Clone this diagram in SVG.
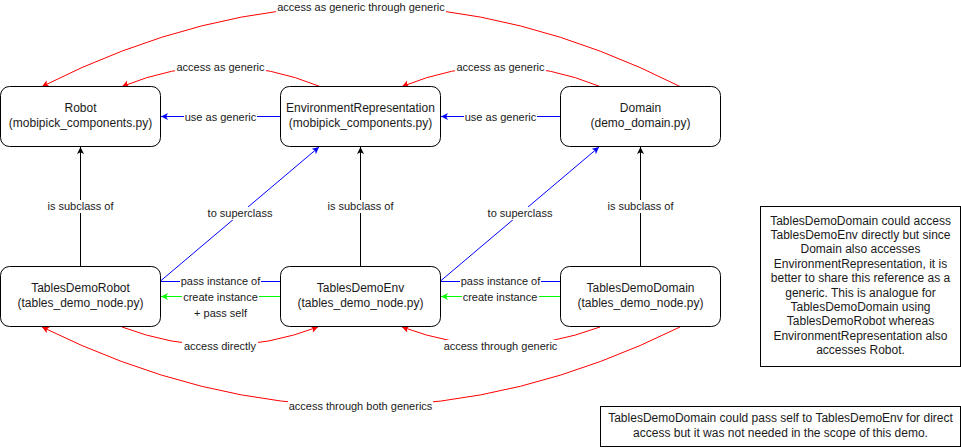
<svg xmlns="http://www.w3.org/2000/svg" width="961" height="448" viewBox="0 0 961 448">
<style>
.node rect{fill:#fff;stroke:#000;stroke-width:1}
.node text{font-family:"Liberation Sans",Arial,sans-serif;font-size:12px;fill:#1a1a1a;text-anchor:middle}
.e{fill:none;stroke-width:1}
.red{stroke:#ff0000}
.blue{stroke:#0000ff}
.green{stroke:#00ff00}
.black{stroke:#000}
.lbl rect{fill:#fff;stroke:none}
.lbl text{font-family:"Liberation Sans",Arial,sans-serif;font-size:11px;fill:#1a1a1a;text-anchor:middle}
</style>
<defs>
<marker id="aR" markerUnits="userSpaceOnUse" markerWidth="9" markerHeight="9" refX="7" refY="3.5" orient="auto"><path d="M0,0 L7,3.5 L0,7 L1.8,3.5 z" fill="#ff0000"/></marker>
<marker id="aB" markerUnits="userSpaceOnUse" markerWidth="9" markerHeight="9" refX="7" refY="3.5" orient="auto"><path d="M0,0 L7,3.5 L0,7 L1.8,3.5 z" fill="#0000ff"/></marker>
<marker id="aG" markerUnits="userSpaceOnUse" markerWidth="9" markerHeight="9" refX="7" refY="3.5" orient="auto"><path d="M0,0 L7,3.5 L0,7 L1.8,3.5 z" fill="#00ff00"/></marker>
<marker id="aK" markerUnits="userSpaceOnUse" markerWidth="9" markerHeight="9" refX="7" refY="3.5" orient="auto"><path d="M0,0 L7,3.5 L0,7 L1.8,3.5 z" fill="#000"/></marker>
</defs>

<g id="connectors">
<path class="e red" d="M680,86.5 Q361,-75 42,86.5" marker-end="url(#aR)"/>
<path class="e red" d="M320,86.5 Q221,46 122,86.5" marker-end="url(#aR)"/>
<path class="e red" d="M600,86.5 Q501,46 402,86.5" marker-end="url(#aR)"/>
<path class="e blue" d="M280.5,116.5 L161,116.5" marker-end="url(#aB)"/>
<path class="e blue" d="M560.5,116.5 L441,116.5" marker-end="url(#aB)"/>
<path class="e black" d="M80.5,266.5 L80.5,147" marker-end="url(#aK)"/>
<path class="e black" d="M360.5,266.5 L360.5,147" marker-end="url(#aK)"/>
<path class="e black" d="M640.5,266.5 L640.5,147" marker-end="url(#aK)"/>
<path class="e blue" d="M160.5,281 L319,147" marker-end="url(#aB)"/>
<path class="e blue" d="M440.5,281 L599,147" marker-end="url(#aB)"/>
<path class="e blue" d="M160.5,281.5 L280.5,281.5"/>
<path class="e blue" d="M440.5,281.5 L560.5,281.5"/>
<path class="e green" d="M280.5,296.5 L161,296.5" marker-end="url(#aG)"/>
<path class="e green" d="M560.5,296.5 L441,296.5" marker-end="url(#aG)"/>
<path class="e red" d="M122,327 Q220,364 318,327" marker-end="url(#aR)"/>
<path class="e red" d="M600,327 Q501,364 402,327" marker-end="url(#aR)"/>
<path class="e red" d="M680,327 Q361,485 42,327" marker-end="url(#aR)"/>
</g>

<g id="labels">
<g class="lbl"><rect x="276" y="0" width="170" height="14"/><text x="361" y="10.5">access as generic through generic</text></g>
<g class="lbl"><rect x="175" y="60" width="91" height="13"/><text x="220.5" y="70.5">access as generic</text></g>
<g class="lbl"><rect x="455" y="60" width="91" height="13"/><text x="500.5" y="70.5">access as generic</text></g>
<g class="lbl"><rect x="184" y="110" width="73" height="13"/><text x="220.5" y="120.5">use as generic</text></g>
<g class="lbl"><rect x="464" y="110" width="73" height="13"/><text x="500.5" y="120.5">use as generic</text></g>
<g class="lbl"><rect x="46" y="200" width="69" height="13"/><text x="80.5" y="210">is subclass of</text></g>
<g class="lbl"><rect x="326" y="200" width="69" height="13"/><text x="360.5" y="210">is subclass of</text></g>
<g class="lbl"><rect x="606" y="200" width="69" height="13"/><text x="640.5" y="210">is subclass of</text></g>
<g class="lbl"><rect x="207" y="207" width="66" height="13"/><text x="240" y="217">to superclass</text></g>
<g class="lbl"><rect x="487" y="207" width="66" height="13"/><text x="520" y="217">to superclass</text></g>
<g class="lbl"><rect x="180" y="275" width="81" height="13"/><text x="220.5" y="285">pass instance of</text></g>
<g class="lbl"><rect x="460" y="275" width="81" height="13"/><text x="500.5" y="285">pass instance of</text></g>
<g class="lbl"><rect x="182" y="290" width="77" height="28"/><text x="220.5" y="300.5">create instance</text><text x="220.5" y="316.5">+ pass self</text></g>
<g class="lbl"><rect x="462" y="290" width="77" height="13"/><text x="500" y="300.5">create instance</text></g>
<g class="lbl"><rect x="182" y="340" width="76" height="13"/><text x="220" y="350">access directly</text></g>
<g class="lbl"><rect x="443" y="340" width="115" height="13"/><text x="500.5" y="350">access through generic</text></g>
<g class="lbl"><rect x="288" y="400" width="145" height="13"/><text x="360.5" y="410">access through both generics</text></g>
</g>

<g id="robot" class="node"><rect x="0.5" y="86.5" width="160" height="60" rx="9"/><text x="80.5" y="112">Robot</text><text x="80.5" y="126.5">(mobipick_components.py)</text></g>
<g id="envrep" class="node"><rect x="280.5" y="86.5" width="160" height="60" rx="9"/><text x="360.5" y="112">EnvironmentRepresentation</text><text x="360.5" y="126.5">(mobipick_components.py)</text></g>
<g id="domain" class="node"><rect x="560.5" y="86.5" width="160" height="60" rx="9"/><text x="640.5" y="112">Domain</text><text x="640.5" y="126.5">(demo_domain.py)</text></g>
<g id="tdrobot" class="node"><rect x="0.5" y="266.5" width="160" height="60" rx="9"/><text x="80.5" y="292">TablesDemoRobot</text><text x="80.5" y="306.5">(tables_demo_node.py)</text></g>
<g id="tdenv" class="node"><rect x="280.5" y="266.5" width="160" height="60" rx="9"/><text x="360.5" y="292">TablesDemoEnv</text><text x="360.5" y="306.5">(tables_demo_node.py)</text></g>
<g id="tddomain" class="node"><rect x="560.5" y="266.5" width="160" height="60" rx="9"/><text x="640.5" y="292">TablesDemoDomain</text><text x="640.5" y="306.5">(tables_demo_node.py)</text></g>

<g id="note1" class="node"><rect x="760.5" y="206.5" width="200" height="160"/>
<text x="860.5" y="224.5">TablesDemoDomain could access</text>
<text x="860.5" y="238.9">TablesDemoEnv directly but since</text>
<text x="860.5" y="253.3">Domain also accesses</text>
<text x="860.5" y="267.7">EnvironmentRepresentation, it is</text>
<text x="860.5" y="282.1">better to share this reference as a</text>
<text x="860.5" y="296.5">generic. This is analogue for</text>
<text x="860.5" y="310.9">TablesDemoDomain using</text>
<text x="860.5" y="325.3">TablesDemoRobot whereas</text>
<text x="860.5" y="339.7">EnvironmentRepresentation also</text>
<text x="860.5" y="354.1">accesses Robot.</text>
</g>
<g id="note2" class="node"><rect x="600.5" y="406.5" width="360" height="40"/>
<text x="780.5" y="422.3">TablesDemoDomain could pass self to TablesDemoEnv for direct</text>
<text x="780.5" y="436.5">access but it was not needed in the scope of this demo.</text>
</g>
</svg>
